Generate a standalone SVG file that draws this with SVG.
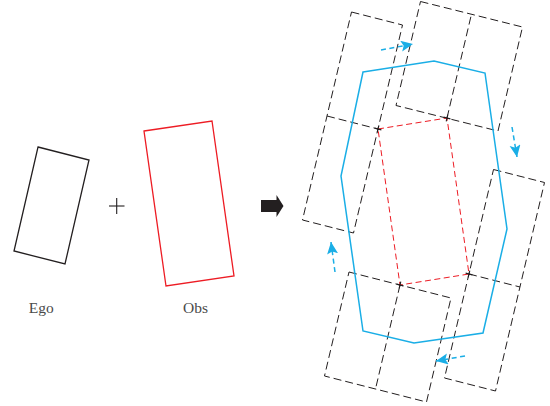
<svg xmlns="http://www.w3.org/2000/svg" width="550" height="406" viewBox="0 0 550 406">
  <style>
    .solid { fill: none; stroke-width: 1.3; stroke-linejoin: miter; }
    .ego { stroke: #231f20; }
    .obs { stroke: #ed1c24; }
    .ghost { fill: none; stroke: #231f20; stroke-width: 1; stroke-dasharray: 8 4; }
    .obsdash { fill: none; stroke: #ed1c24; stroke-width: 1; stroke-dasharray: 6 3.5; }
    .cspace { fill: none; stroke: #1aaee6; stroke-width: 1.5; stroke-linejoin: miter; }
    .slide { fill: none; stroke: #1aaee6; stroke-width: 1.5; stroke-dasharray: 5 3.5; }
    .tick { stroke: #231f20; stroke-width: 1.1; }
    .label { font-family: "Liberation Serif", "DejaVu Serif", serif; font-size: 15.5px; fill: #4a4a4a; text-anchor: middle; }
  </style>
  <defs>
    <marker id="head" markerUnits="userSpaceOnUse" markerWidth="14" markerHeight="12" refX="12" refY="5.5" orient="auto">
      <path d="M0,0 L12,5.5 L0,11 L2.5,5.5 Z" fill="#1aaee6"/>
    </marker>
  </defs>

  <!-- left: ego vehicle, plus sign, obstacle -->
  <g id="ego">
    <polygon class="solid ego" points="38,147 89,160 65,264 14,251"/>
    <text class="label" x="41.3" y="312.5">Ego</text>
  </g>
  <g id="plus">
    <line class="tick" x1="109" y1="206" x2="124.5" y2="206"/>
    <line class="tick" x1="116.7" y1="198" x2="116.7" y2="214"/>
  </g>
  <g id="obs">
    <polygon class="solid obs" points="144,131 212,121 234,276 166,286"/>
    <text class="label" x="195.5" y="312.5">Obs</text>
  </g>

  <!-- block arrow -->
  <g id="implies">
    <polygon points="261,200 276.5,200 276.5,195 283.5,206 276.5,217 276.5,212 261,212" fill="#231f20"/>
  </g>

  <!-- right: ego placed at each obstacle corner -->
  <g id="placements">
    <g id="place-tl">
      <polygon class="ghost" points="351.5,12 402.5,25 353.5,233 302.5,220"/>
      <line class="ghost" x1="327" y1="116" x2="378" y2="129"/>
    </g>
    <g id="place-tr">
      <polygon class="ghost" points="420.5,1.5 522.5,27 498,131 396,105.5"/>
      <line class="ghost" x1="447" y1="118" x2="471.5" y2="14"/>
    </g>
    <g id="place-r">
      <polygon class="ghost" points="493.5,169.5 544.5,182.5 495.5,391 444.5,378"/>
      <line class="ghost" x1="469" y1="274" x2="520" y2="287"/>
    </g>
    <g id="place-bl">
      <polygon class="ghost" points="349,272 451,298 426.5,402 324.5,376"/>
      <line class="ghost" x1="400" y1="285" x2="375.5" y2="389"/>
    </g>
  </g>

  <!-- obstacle outline (dashed) -->
  <g id="obstacle">
    <polygon class="obsdash" points="378,129 447,118 469,274 400,285"/>
  </g>

  <!-- corner marks -->
  <g id="corners">
    <path class="tick" d="M374.6,128.1 L381.4,129.9 M378.8,125.6 L377.2,132.4"/>
    <path class="tick" d="M443.6,117.1 L450.4,118.9 M447.8,114.6 L446.2,121.4"/>
    <path class="tick" d="M465.6,273.1 L472.4,274.9 M469.8,270.6 L468.2,277.4"/>
    <path class="tick" d="M396.6,284.1 L403.4,285.9 M400.8,281.6 L399.2,288.4"/>
  </g>

  <!-- configuration-space obstacle -->
  <g id="cspace">
    <polygon class="cspace" points="363,72 434,61 485,73 507,229 483,333 414,343 363,331 341,176"/>
  </g>

  <!-- sliding directions -->
  <g id="connectors">
    <line class="slide" x1="381" y1="50" x2="413" y2="44" marker-end="url(#head)"/>
    <line class="slide" x1="512" y1="127" x2="517" y2="157" marker-end="url(#head)"/>
    <line class="slide" x1="335" y1="272" x2="331" y2="242" marker-end="url(#head)"/>
    <line class="slide" x1="465" y1="356" x2="436" y2="361" marker-end="url(#head)"/>
  </g>
</svg>
